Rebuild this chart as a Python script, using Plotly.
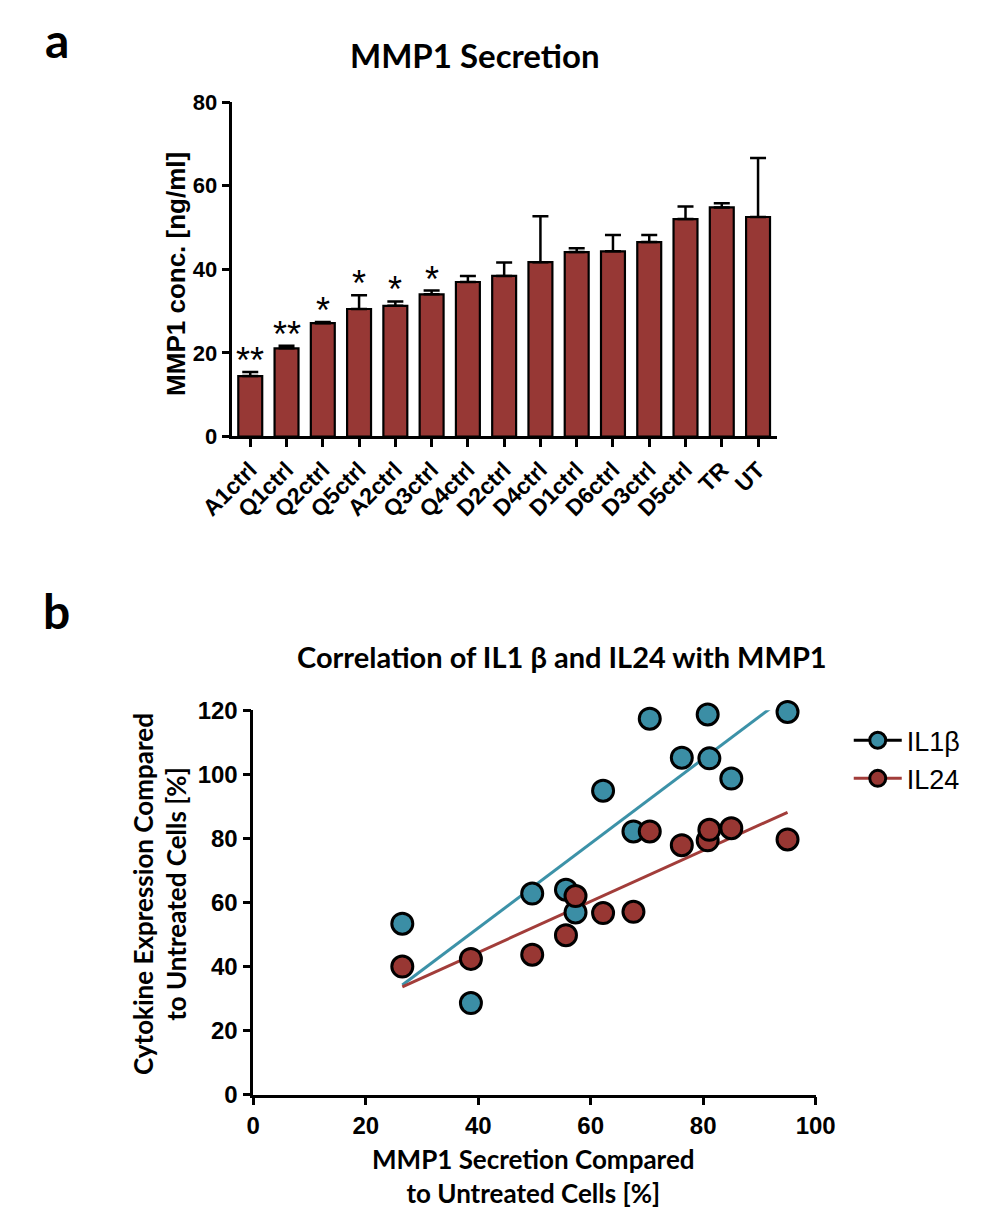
import plotly.graph_objects as go
import numpy as np

# ---------------- Panel a data ----------------
categories = ["A1ctrl", "Q1ctrl", "Q2ctrl", "Q5ctrl", "A2ctrl", "Q3ctrl", "Q4ctrl",
              "D2ctrl", "D4ctrl", "D1ctrl", "D6ctrl", "D3ctrl", "D5ctrl", "TR", "UT"]
mmp1_mean = [14.45, 21.1, 27.1, 30.5, 31.25, 34.0, 36.95, 38.4, 41.7, 44.1, 44.3, 46.5, 52.0, 54.8, 52.5]
mmp1_sd = [0.95, 0.6, 0.3, 3.3, 1.05, 0.9, 1.45, 3.2, 11.0, 0.9, 3.9, 1.7, 3.0, 1.0, 14.1]
significance = ["**", "**", "*", "*", "*", "*", "", "", "", "", "", "", "", "", ""]
bar_yticks = [0, 20, 40, 60, 80]

# ---------------- Panel b data ----------------
mmp1_secretion_pct = [26.5, 38.7, 49.6, 55.6, 57.3, 62.2, 67.6, 70.5, 76.2, 80.8, 81.1, 85.0, 95.0]
il1b_pct = [53.4, 28.6, 62.8, 64.0, 56.9, 94.9, 82.2, 117.4, 105.2, 118.7, 105.0, 98.7, 119.5]
il24_pct = [40.0, 42.4, 43.7, 49.8, 62.0, 56.7, 57.1, 82.2, 77.9, 79.4, 82.7, 83.2, 79.7]
sc_xticks = [0, 20, 40, 60, 80, 100]
sc_yticks = [0, 20, 40, 60, 80, 100, 120]

W, H = 985, 1227
BAR_COLOR = "#973835"
BLUE = "#3B8EA5"
RED = "#983733"
BLUE_LINE = "#3C92A8"
RED_LINE = "#A23D3A"
ARIAL = "Liberation Sans"
CAL = "Lato"


def px_x(p):
    return p / W


def px_y(p):
    return 1 - p / H


fig = go.Figure()

fig.add_trace(go.Bar(
    x=categories, y=mmp1_mean,
    error_y=dict(type="data", array=mmp1_sd, arrayminus=[0] * len(mmp1_sd), symmetric=False,
                 color="black", thickness=2.5, width=8),
    marker=dict(color=BAR_COLOR, line=dict(color="black", width=2.2)),
    width=0.66, xaxis="x", yaxis="y", showlegend=False, hoverinfo="skip",
))

for c, m, s, sig in zip(categories, mmp1_mean, mmp1_sd, significance):
    if sig:
        fig.add_annotation(x=c, y=m + s, xref="x", yref="y", text=sig, showarrow=False,
                           yanchor="bottom", yshift=-11,
                           font=dict(family=ARIAL, size=36, color="black"))

for yvals, col in ((il1b_pct, BLUE_LINE), (il24_pct, RED_LINE)):
    k, b = np.polyfit(mmp1_secretion_pct, yvals, 1)
    xs = [min(mmp1_secretion_pct), max(mmp1_secretion_pct)]
    fig.add_trace(go.Scatter(x=xs, y=[k * v + b for v in xs], mode="lines",
                             line=dict(color=col, width=3), xaxis="x2", yaxis="y2",
                             showlegend=False, hoverinfo="skip"))

fig.add_trace(go.Scatter(x=mmp1_secretion_pct, y=il1b_pct, mode="markers",
                         marker=dict(color=BLUE, size=21, line=dict(color="black", width=3)),
                         xaxis="x2", yaxis="y2", showlegend=False, cliponaxis=False))
fig.add_trace(go.Scatter(x=mmp1_secretion_pct, y=il24_pct, mode="markers",
                         marker=dict(color=RED, size=21, line=dict(color="black", width=3)),
                         xaxis="x2", yaxis="y2", showlegend=False, cliponaxis=False))

fig.add_trace(go.Scatter(x=[None], y=[None], mode="lines+markers", name="IL1β",
                         marker=dict(color=BLUE, size=20, line=dict(color="black", width=3)),
                         line=dict(color="black", width=3), xaxis="x2", yaxis="y2"))
fig.add_trace(go.Scatter(x=[None], y=[None], mode="lines+markers", name="IL24",
                         marker=dict(color=RED, size=20, line=dict(color="black", width=3)),
                         line=dict(color=RED_LINE, width=3), xaxis="x2", yaxis="y2"))

axis_common = dict(showline=True, linecolor="black", linewidth=2.5, ticks="outside",
                   ticklen=8, tickwidth=2.5, tickcolor="black", showgrid=False,
                   zeroline=False, mirror=False)

fig.update_layout(
    width=W, height=H, margin=dict(l=0, r=0, t=0, b=0),
    plot_bgcolor="white", paper_bgcolor="white",
    xaxis=dict(domain=[px_x(210), px_x(786)], anchor="y", type="category",
               range=[-0.49, 14.52], tickangle=-45,
               tickfont=dict(family=ARIAL, size=23, color="black", weight="bold"), **axis_common),
    yaxis=dict(domain=[px_y(432), px_y(90)], anchor="x", range=[0, 80],
               tickvals=bar_yticks,
               tickfont=dict(family=ARIAL, size=22, color="black", weight="bold"),
               **axis_common),
    xaxis2=dict(domain=[px_x(232), px_x(827)], anchor="y2", range=[0, 100],
                tickvals=sc_xticks,
                tickfont=dict(family=ARIAL, size=24, color="black", weight="bold"),
                **axis_common),
    yaxis2=dict(domain=[px_y(1105), px_y(712)], anchor="x2", range=[0, 120],
                tickvals=sc_yticks,
                tickfont=dict(family=ARIAL, size=24, color="black", weight="bold"),
                **axis_common),
    legend=dict(x=px_x(862), y=px_y(718), xanchor="left", yanchor="top",
                font=dict(family=ARIAL, size=27, color="black"),
                bgcolor="rgba(0,0,0,0)", itemwidth=48, tracegroupgap=4),
    showlegend=True,
)

texts = [
    ("a", 24, 26, 48, CAL, 0),
    ("MMP1 Secretion", 467, 42, 33, CAL, 0),
    ("MMP1 conc. [ng/ml]", 150, 266, 26, ARIAL, -90),
    ("b", 24, 610, 48, CAL, 0),
    ("Correlation of IL1 β and IL24 with MMP1", 559, 657, 29, CAL, 0),
    ("Cytokine Expression Compared<br>to Untreated Cells [%]", 133, 900, 26, CAL, -90),
    ("MMP1 Secretion Compared<br>to Untreated Cells [%]", 528, 1188, 26, CAL, 0),
]
for t, x, y, s, fam, ang in texts:
    fig.add_annotation(x=px_x(x), y=px_y(y), xref="paper", yref="paper", text="<b>" + t + "</b>",
                       showarrow=False, xanchor="center", yanchor="middle", textangle=ang,
                       font=dict(family=fam, size=s, color="black"))

fig.write_html("out.html", config={"displayModeBar": False},
               post_script="document.body.style.margin='0';")
